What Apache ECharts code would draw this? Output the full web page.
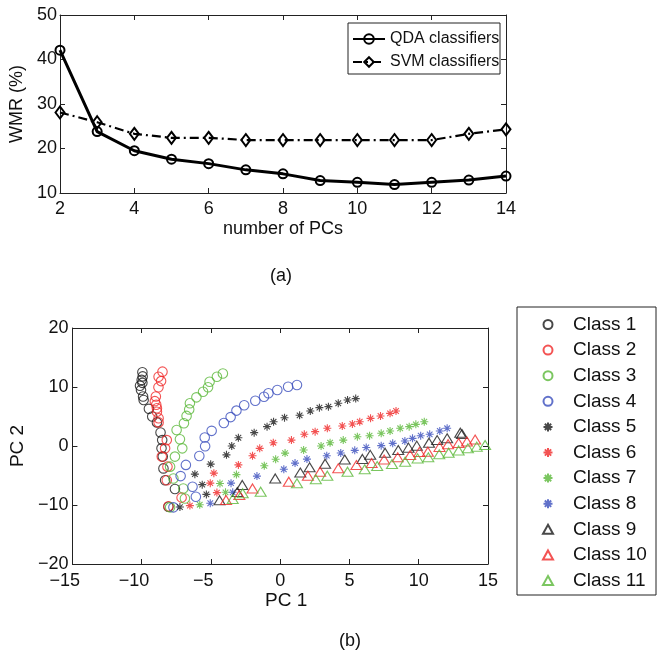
<!DOCTYPE html>
<html>
<head>
<meta charset="utf-8">
<script src="https://cdn.jsdelivr.net/npm/echarts@6/dist/echarts.min.js"></script>
<style>html,body{margin:0;padding:0;background:#fff;}#c{width:662px;height:651px;}</style>
</head>
<body>
<div id="c"></div>
<script>
// ---------- data: (a) WMR vs number of PCs ----------
const pcCounts = [2, 3, 4, 5, 6, 7, 8, 9, 10, 11, 12, 13, 14];
const qdaWMR = [42.1, 23.8, 19.5, 17.6, 16.6, 15.2, 14.3, 12.8, 12.4, 11.9, 12.4, 12.9, 13.8];
const svmWMR = [28.1, 25.9, 23.3, 22.4, 22.4, 21.9, 21.9, 21.9, 21.9, 21.9, 21.9, 23.3, 24.3];
const xTicksA = [2, 4, 6, 8, 10, 12, 14];
const yTicksA = [10, 20, 30, 40, 50];

// ---------- data: (b) PC1 / PC2 scatter per class ----------
const classNames = ['Class 1','Class 2','Class 3','Class 4','Class 5','Class 6','Class 7','Class 8','Class 9','Class 10','Class 11'];
const class1 = [[-9.95,12.5],[-9.93,11.8],[-10.0,11.2],[-9.95,10.7],[-10.12,10.2],[-10.05,9.5],[-9.9,8.4],[-9.86,7.8],[-9.48,6.3],[-9.24,5.0],[-8.9,4.0],[-8.64,2.3],[-8.52,1.0],[-8.57,-0.4],[-8.48,-1.8],[-8.43,-3.8],[-8.31,-5.8],[-7.6,-7.3],[-8.07,-10.3]];
const class2 = [[-8.5,12.6],[-8.78,11.75],[-8.6,11.0],[-8.79,9.95],[-8.98,8.4],[-9.05,7.6],[-8.95,7.0],[-8.9,6.4],[-8.9,5.8],[-8.78,4.7],[-8.78,4.0],[-8.19,1.0],[-8.31,-0.4],[-8.55,-1.8],[-8.14,-3.5],[-8.19,-5.8],[-7.12,-8.75],[-8.07,-10.2]];
const class3 = [[-4.14,12.3],[-4.57,11.75],[-5.1,10.9],[-5.21,9.95],[-5.57,9.2],[-6.05,8.25],[-6.52,7.24],[-6.57,6.2],[-6.76,5.1],[-6.95,3.85],[-7.48,2.7],[-7.24,1.14],[-7.07,-0.4],[-7.6,-1.8],[-7.95,-3.5],[-7.71,-5.5],[-7.0,-7.2],[-6.88,-8.9],[-7.95,-10.4]];
const class4 = [[-7.71,-10.4],[-6.09,-8.6],[-6.33,-6.9],[-7.19,-5.1],[-6.81,-3.2],[-5.84,-1.7],[-5.42,-0.05],[-5.45,1.45],[-4.95,2.57],[-4.07,3.9],[-3.58,4.9],[-3.16,6.0],[-2.6,6.9],[-1.8,7.68],[-1.17,8.36],[-0.85,8.93],[-0.21,9.49],[0.57,10.05],[1.21,10.34]];
const class5 = [[-7.24,-10.35],[-5.33,-8.2],[-5.63,-6.55],[-6.16,-4.77],[-5.02,-3.08],[-3.88,-1.5],[-3.5,0.0],[-3.02,1.4],[-1.88,2.26],[-0.95,3.28],[-0.48,4.1],[0.31,4.8],[1.4,5.2],[2.17,5.94],[2.83,6.5],[3.48,6.67],[4.19,7.24],[4.86,7.8],[5.45,8.03]];
const class6 = [[-6.52,-10.1],[-4.57,-7.9],[-5.05,-6.3],[-4.79,-4.6],[-3.02,-3.2],[-2.0,-1.65],[-1.48,-0.4],[-0.5,0.56],[0.81,1.0],[1.74,1.98],[2.52,2.43],[3.4,3.0],[4.48,3.39],[5.21,3.73],[5.74,4.12],[6.52,4.69],[7.24,5.08],[7.93,5.53],[8.36,5.93]];
const class7 = [[-5.81,-9.95],[-3.95,-7.85],[-4.35,-6.35],[-3.16,-4.85],[-1.15,-3.35],[-0.33,-2.25],[0.35,-1.2],[1.69,-0.68],[2.95,0.0],[3.6,0.56],[4.55,1.0],[5.57,1.58],[6.45,1.75],[7.29,2.15],[7.93,2.54],[8.66,3.0],[9.31,3.28],[9.79,3.67],[10.4,4.12]];
const class8 = [[-5.05,-9.7],[-3.43,-7.85],[-3.55,-6.3],[-1.68,-5.1],[0.26,-3.95],[1.07,-2.9],[1.93,-2.22],[3.36,-1.64],[4.37,-1.18],[5.38,-0.74],[6.21,-0.25],[7.29,0.06],[8.12,0.45],[9.0,0.85],[9.55,1.3],[10.14,1.75],[10.79,1.98],[11.52,2.54],[12.05,3.0]];
const class9 = [[-4.38,-9.2],[-3.1,-7.8],[-2.74,-6.6],[-0.36,-5.5],[1.45,-4.5],[2.12,-3.6],[3.24,-3.0],[4.66,-2.3],[5.93,-2.2],[6.5,-1.5],[7.57,-1.13],[8.52,-0.68],[9.26,-0.28],[9.86,0.06],[10.74,0.56],[11.33,1.0],[12.05,1.3],[13.12,2.03],[13.0,2.25]];
const class10 = [[-3.91,-9.15],[-2.95,-8.3],[-2.0,-7.2],[0.62,-6.05],[2.0,-5.03],[2.88,-4.35],[4.19,-3.78],[5.5,-3.22],[6.6,-2.9],[7.5,-2.3],[8.48,-1.92],[9.38,-1.53],[10.05,-1.0],[10.66,-0.96],[11.5,-0.15],[12.12,0.3],[12.88,0.5],[13.48,0.75],[14.07,1.1]];
const class11 = [[-3.43,-9.0],[-2.71,-8.0],[-1.41,-7.75],[1.21,-6.33],[2.57,-5.64],[3.4,-5.03],[4.86,-4.35],[6.1,-3.95],[7.0,-3.39],[8.07,-3.05],[9.02,-2.66],[9.92,-2.1],[10.69,-1.92],[11.48,-1.4],[12.16,-1.13],[12.88,-0.75],[13.55,-0.4],[14.19,-0.11],[14.79,0.17]];
const classData = [class1, class2, class3, class4, class5, class6, class7, class8, class9, class10, class11];

// ---------- styling ----------
const FONT = '"Liberation Sans", Arial, Helvetica, sans-serif';
const TXT = '#111';
const AX = '#222';
const BLACK = '#1a1a1a', RED = '#f02828', GREEN = '#5ab838', BLUE = '#3a4dbd';
const classColors = [BLACK, RED, GREEN, BLUE, BLACK, RED, GREEN, BLUE, BLACK, RED, GREEN];
const STAR = 'path://M5,0L5,10M0,5L10,5M1.5,1.5L8.5,8.5M8.5,1.5L1.5,8.5';
const classSymbols = ['circle','circle','circle','circle',STAR,STAR,STAR,STAR,'triangle','triangle','triangle'];
const classSizes = [9.5,9.5,9.5,9.5,8,8,8,8,[11,9],[11,9],[11,9]];

function minusFmt(v) { return v < 0 ? '\u2212' + Math.abs(v) : String(v); }
// negative x labels: keep digits centred on the tick, minus hangs to the left
function minusFmtX(v) { return v < 0 ? '\u2212' + Math.abs(v) + '{p|\u2212} ' : String(v); }

function ax(extra) {
  return Object.assign({
    type: 'value',
    axisLine: { show: true, onZero: false, lineStyle: { color: AX, width: 1 } },
    axisTick: { show: true, inside: true, length: 5, lineStyle: { color: AX, width: 1 } },
    splitLine: { show: false },
    axisLabel: { show: true, color: TXT, fontSize: 18, fontFamily: FONT },
    nameTextStyle: { color: TXT, fontSize: 18, fontFamily: FONT }
  }, extra);
}
function mirror(extra) {
  const o = ax(extra);
  o.axisLabel = { show: false };
  return o;
}

const chart = echarts.init(document.getElementById('c'), null, { renderer: 'canvas' });

const scatterSeries = classNames.map((n, i) => ({
  name: n,
  type: 'scatter',
  xAxisIndex: 2, yAxisIndex: 2,
  data: classData[i],
  symbol: classSymbols[i],
  symbolSize: classSizes[i],
  itemStyle: { color: 'rgba(0,0,0,0)', borderColor: classColors[i], borderWidth: 1.1 },
  emphasis: { disabled: true },
  z: 3
}));

const option = {
  animation: false,
  backgroundColor: '#fff',
  textStyle: { fontFamily: FONT },
  grid: [
    { left: 54, top: 15, width: 452, height: 178 },
    { left: 68, top: 328, width: 420, height: 236 }
  ],
  xAxis: [
    ax({ gridIndex: 0, position: 'bottom', min: 2, max: 14, interval: 2,
         name: 'number of PCs', nameLocation: 'middle', nameGap: 27,
         axisLabel: { color: TXT, fontSize: 18, fontFamily: FONT, margin: 7 } }),
    mirror({ gridIndex: 0, position: 'top', min: 2, max: 14, interval: 2 }),
    ax({ gridIndex: 1, position: 'bottom', min: -15, max: 15, interval: 5,
         name: 'PC 1', nameLocation: 'middle', nameGap: 27,
         nameTextStyle: { color: TXT, fontSize: 19, fontFamily: FONT, padding: [0, 0, 0, 12] },
         axisLabel: { color: TXT, fontSize: 18, fontFamily: FONT, margin: 8, formatter: minusFmtX,
                      rich: { p: { color: 'rgba(0,0,0,0)', fontSize: 18, fontFamily: FONT } } } }),
    mirror({ gridIndex: 1, position: 'top', min: -15, max: 15, interval: 5 })
  ],
  yAxis: [
    ax({ gridIndex: 0, position: 'left', min: 10, max: 50, interval: 10,
         name: 'WMR (%)', nameLocation: 'middle', nameGap: 34, nameRotate: 90,
         axisLabel: { color: TXT, fontSize: 18, fontFamily: FONT, margin: 3 } }),
    mirror({ gridIndex: 0, position: 'right', min: 10, max: 50, interval: 10 }),
    ax({ gridIndex: 1, position: 'left', min: -20, max: 20, interval: 10,
         name: 'PC 2', nameLocation: 'middle', nameGap: 40, nameRotate: 90,
         nameTextStyle: { color: TXT, fontSize: 19, fontFamily: FONT },
         axisLabel: { color: TXT, fontSize: 18, fontFamily: FONT, margin: 4, formatter: minusFmt } }),
    mirror({ gridIndex: 1, position: 'right', min: -20, max: 20, interval: 10 })
  ],
  legend: [
    {
      data: ['QDA classifiers', 'SVM classifiers'],
      orient: 'vertical', left: 352, top: 31, padding: 0,
      itemWidth: 32, itemHeight: 12, itemGap: 7,
      textStyle: { color: TXT, fontSize: 16, fontFamily: FONT },
      selectedMode: false
    },
    {
      data: classNames,
      orient: 'vertical', left: 542, top: 315, padding: 0,
      itemWidth: 10, itemHeight: 9, itemGap: 6.6,
      textStyle: { color: TXT, fontSize: 19, fontFamily: FONT, padding: [0, 0, 0, 15] },
      selectedMode: false
    }
  ],
  graphic: [
    { type: 'rect', shape: { x: 348, y: 23, width: 152, height: 51 },
      style: { fill: '#fff', stroke: AX, lineWidth: 1 }, z: 0, silent: true },
    { type: 'rect', shape: { x: 517, y: 307, width: 139, height: 288 },
      style: { fill: '#fff', stroke: AX, lineWidth: 1 }, z: 0, silent: true },
    { type: 'text', x: 281, y: 276, style: { text: '(a)', align: 'center', verticalAlign: 'middle', font: '18px ' + FONT, fill: TXT } },
    { type: 'text', x: 350, y: 641, style: { text: '(b)', align: 'center', verticalAlign: 'middle', font: '18px ' + FONT, fill: TXT } }
  ],
  series: [
    {
      name: 'QDA classifiers', type: 'line', xAxisIndex: 0, yAxisIndex: 0,
      data: pcCounts.map((p, i) => [p, qdaWMR[i]]),
      symbol: 'circle', symbolSize: 9,
      lineStyle: { color: '#000', width: 3 },
      itemStyle: { color: 'rgba(0,0,0,0)', borderColor: '#000', borderWidth: 2 },
      emphasis: { disabled: true }, z: 4
    },
    {
      name: 'SVM classifiers', type: 'line', xAxisIndex: 0, yAxisIndex: 0,
      data: pcCounts.map((p, i) => [p, svmWMR[i]]),
      symbol: 'diamond', symbolSize: [9, 12],
      lineStyle: { color: '#000', width: 2.2, type: [9, 4, 2, 4] },
      itemStyle: { color: 'rgba(0,0,0,0)', borderColor: '#000', borderWidth: 2 },
      emphasis: { disabled: true }, z: 4
    }
  ].concat(scatterSeries)
};
chart.setOption(option);
</script>
</body>
</html>
